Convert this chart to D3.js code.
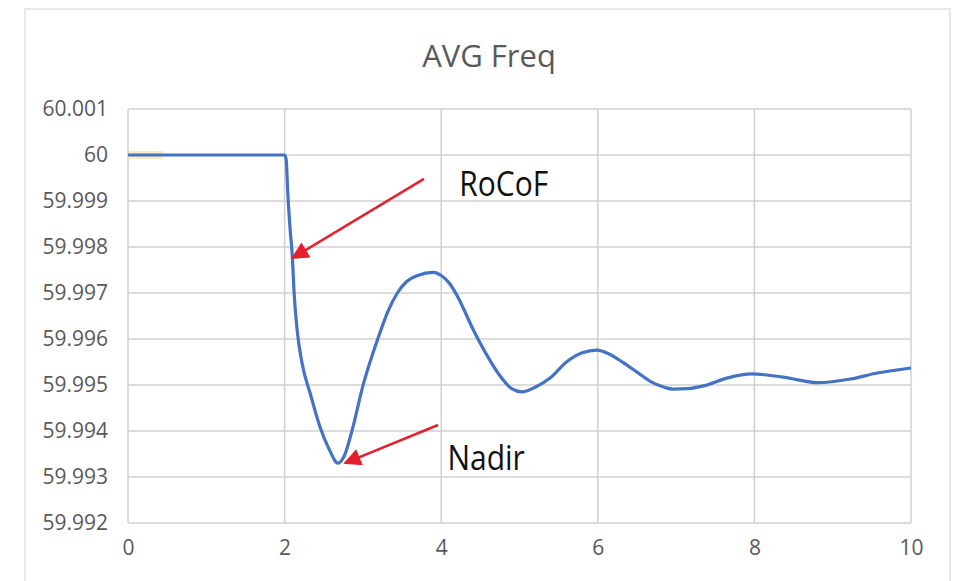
<!DOCTYPE html>
<html><head><meta charset="utf-8">
<script src="https://cdn.jsdelivr.net/npm/d3@7"></script>
<style>
html,body{margin:0;padding:0;background:#fff;}
svg{display:block;font-family:"Open Sans",sans-serif;}
</style></head>
<body><svg id="c" width="953" height="581"></svg>
<script>
const title = "AVG Freq";
const xTicks = [0, 2, 4, 6, 8, 10];
const yTicks = [59.992, 59.993, 59.994, 59.995, 59.996, 59.997, 59.998, 59.999, 60, 60.001];
const timeS = [0, 1.9, 2.0, 2.02, 2.04, 2.07, 2.10, 2.12, 2.16, 2.22, 2.33, 2.45, 2.57, 2.68, 2.76, 2.86, 3.0, 3.19, 3.32, 3.44, 3.56, 3.7, 3.9, 4.0, 4.11, 4.2, 4.43, 4.6, 4.75, 4.9, 5.03, 5.2, 5.39, 5.6, 5.8, 5.99, 6.15, 6.33, 6.5, 6.67, 6.85, 6.96, 7.15, 7.35, 7.65, 7.97, 8.37, 8.81, 9.23, 9.57, 10.0];
const freqHz = [60, 60, 60, 59.99990, 59.99920, 59.99840, 59.99776, 59.99704, 59.99620, 59.99550, 59.99480, 59.99410, 59.99360, 59.99330, 59.99345, 59.99400, 59.99498, 59.99600, 59.99660, 59.99700, 59.99725, 59.99738, 59.99745, 59.99738, 59.99720, 59.99695, 59.99613, 59.99560, 59.99520, 59.99492, 59.99485, 59.99495, 59.99515, 59.99550, 59.99570, 59.99576, 59.99567, 59.99548, 59.99528, 59.99508, 59.99495, 59.99491, 59.99492, 59.99498, 59.99515, 59.99524, 59.99517, 59.99505, 59.99513, 59.99526, 59.99537];
const hiliteTime = [0, 0.45];
const hiliteHz = [60, 60];
const annLabels = ["RoCoF", "Nadir"];
const annTextX = [4.23, 4.08];
const annTextY = [59.99911, 59.99315];
const annTailX = [3.78, 3.96];
const annTailY = [59.99948, 59.99413];
const annTipX = [2.10, 2.77];
const annTipY = [59.99776, 59.99330];

const svg = d3.select("#c");
svg.append("rect").attr("x", 25).attr("y", 9).attr("width", 925).attr("height", 600)
  .attr("fill", "#fff").attr("stroke", "#d9d9d9").attr("stroke-width", 1.2);

const x = d3.scaleLinear().domain([0, 10]).range([128, 911]);
const y = d3.scaleLinear().domain([59.992, 60.001]).range([523, 109]);

const g = svg.append("g");
g.selectAll("line.h").data(yTicks).join("line").attr("class", "h")
  .attr("x1", x(0)).attr("x2", x(10)).attr("y1", d => y(d)).attr("y2", d => y(d))
  .attr("stroke", "#d0d0d0").attr("stroke-width", 1.5);
g.selectAll("line.v").data(xTicks).join("line").attr("class", "v")
  .attr("y1", y(59.992)).attr("y2", y(60.001)).attr("x1", d => x(d)).attr("x2", d => x(d))
  .attr("stroke", "#d0d0d0").attr("stroke-width", 1.5);

const ya = svg.append("g").attr("transform", `translate(${x(0)},0)`)
  .call(d3.axisLeft(y).tickValues(yTicks).tickSize(0).tickPadding(20).tickFormat(d => +d.toFixed(3) + ""));
ya.select(".domain").remove();
ya.selectAll("text").attr("font-size", 21).attr("fill", "#595959").attr("font-family", "Open Sans");
const xa = svg.append("g").attr("transform", `translate(0,${y(59.992)})`)
  .call(d3.axisBottom(x).tickValues(xTicks).tickSize(0).tickPadding(17).tickFormat(d3.format("d")));
xa.select(".domain").remove();
xa.selectAll("text").attr("font-size", 21).attr("fill", "#595959").attr("font-family", "Open Sans");

svg.append("text").attr("x", 489).attr("y", 67).attr("text-anchor", "middle")
  .attr("font-size", 31).attr("fill", "#595959").text(title);

svg.append("path").datum(hiliteTime.map((t, i) => [t, hiliteHz[i]]))
  .attr("d", d3.line().x(d => x(d[0])).y(d => y(d[1])))
  .attr("stroke", "#fbe3a6").attr("stroke-width", 8).attr("fill", "none").attr("opacity", 0.7);

const pts = timeS.map((t, i) => [t, freqHz[i]]);
svg.append("path").datum(pts)
  .attr("d", d3.line().x(d => x(d[0])).y(d => y(d[1])).curve(d3.curveMonotoneX))
  .attr("stroke", "#4472c4").attr("stroke-width", 3.2).attr("fill", "none")
  .attr("stroke-linejoin", "round");

const defs = svg.append("defs");
defs.append("marker").attr("id", "ah").attr("viewBox", "0 0 10 10").attr("refX", 9).attr("refY", 5)
  .attr("markerWidth", 8).attr("markerHeight", 7).attr("markerUnits", "strokeWidth").attr("orient", "auto")
  .append("path").attr("d", "M0,0 L10,5 L0,10 z").attr("fill", "#e3202b");
annLabels.forEach((lab, i) => {
  svg.append("line")
    .attr("x1", x(annTailX[i])).attr("y1", y(annTailY[i]))
    .attr("x2", x(annTipX[i])).attr("y2", y(annTipY[i]))
    .attr("stroke", "#e3202b").attr("stroke-width", 2.5).attr("marker-end", "url(#ah)");
  const tx = x(annTextX[i]), ty = y(annTextY[i]);
  svg.append("text").attr("x", 0).attr("y", 0)
    .attr("transform", `translate(${tx},${ty}) scale(1,1.18)`)
    .attr("font-size", 30).attr("fill", "#111").text(lab);
});
</script></body></html>
